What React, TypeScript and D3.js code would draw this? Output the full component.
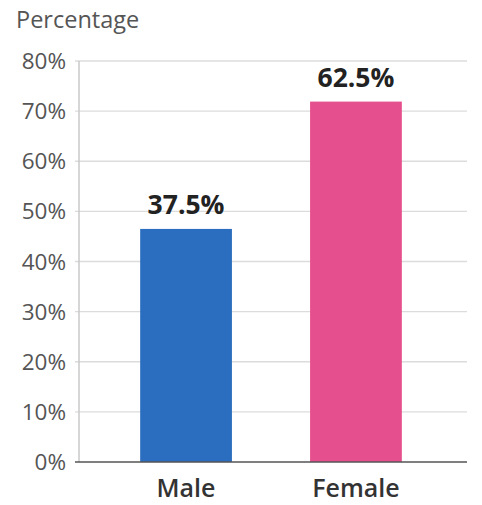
import React, { useEffect, useRef } from 'react';
import * as d3 from 'd3';

// bar heights as drawn in the picture, labels as printed above them
const categories = ['Male', 'Female'];
const barValues = [46.5, 71.9];
const barLabels = ['37.5%', '62.5%'];
const barColors = ['#2b6dbe', '#e64f8d'];
const yTicks = [0, 10, 20, 30, 40, 50, 60, 70, 80];

export default function App() {
  const svgRef = useRef<SVGSVGElement>(null);

  useEffect(() => {
    if (!svgRef.current) return;
    const svg = d3.select(svgRef.current);
    svg.selectAll('*').remove();

    const width = 482;
    const height = 505;
    const margin = { top: 61, right: 15, bottom: 43, left: 79 };
    const font = "'Open Sans', 'Noto Sans', sans-serif";

    const x = d3.scaleBand()
      .domain(categories)
      .range([margin.left, width - margin.right - 4])
      .paddingInner(0.46)
      .paddingOuter(0.36);

    const y = d3.scaleLinear()
      .domain([0, 80])
      .range([height - margin.bottom, margin.top]);

    // gridlines
    svg.append('g')
      .selectAll('line')
      .data(yTicks.filter(t => t > 0))
      .join('line')
      .attr('x1', margin.left - 4)
      .attr('x2', width - margin.right)
      .attr('y1', d => y(d))
      .attr('y2', d => y(d))
      .attr('stroke', '#dcdcdc')
      .attr('stroke-width', 1.3);

    // tick labels
    svg.append('g')
      .selectAll('text')
      .data(yTicks)
      .join('text')
      .attr('x', 66)
      .attr('y', d => y(d))
      .attr('dy', '0.36em')
      .attr('text-anchor', 'end')
      .attr('font-family', font)
      .attr('font-size', 22.5)
      .attr('fill', '#555')
      .text(d => `${d}%`);

    // left axis line
    svg.append('line')
      .attr('x1', margin.left)
      .attr('x2', margin.left)
      .attr('y1', y(80))
      .attr('y2', y(0))
      .attr('stroke', '#c8c8c8')
      .attr('stroke-width', 1.5);

    // bars
    svg.append('g')
      .selectAll('rect')
      .data(categories)
      .join('rect')
      .attr('x', d => x(d)!)
      .attr('width', x.bandwidth())
      .attr('y', (d, i) => y(barValues[i]))
      .attr('height', (d, i) => y(0) - y(barValues[i]))
      .attr('fill', (d, i) => barColors[i]);

    // value labels
    svg.append('g')
      .selectAll('text')
      .data(categories)
      .join('text')
      .attr('x', d => x(d)! + x.bandwidth() / 2)
      .attr('y', (d, i) => y(barValues[i]) - 15)
      .attr('text-anchor', 'middle')
      .attr('font-family', font)
      .attr('font-size', 26.5)
      .attr('font-weight', 700)
      .attr('fill', '#222')
      .text((d, i) => barLabels[i]);

    // baseline
    svg.append('line')
      .attr('x1', margin.left - 4)
      .attr('x2', width - margin.right)
      .attr('y1', y(0))
      .attr('y2', y(0))
      .attr('stroke', '#555')
      .attr('stroke-width', 1.5);

    // category labels
    svg.append('g')
      .selectAll('text')
      .data(categories)
      .join('text')
      .attr('x', d => x(d)! + x.bandwidth() / 2)
      .attr('y', 497)
      .attr('text-anchor', 'middle')
      .attr('font-family', font)
      .attr('font-size', 25)
      .attr('font-weight', 600)
      .attr('fill', '#333')
      .text(d => d);

    // axis title
    svg.append('text')
      .attr('x', 16)
      .attr('y', 28)
      .attr('font-family', font)
      .attr('font-size', 23.5)
      .attr('fill', '#555')
      .text('Percentage');
  }, []);

  return (
    <svg
      ref={svgRef}
      width={482}
      height={505}
      style={{ position: 'absolute', left: 0, top: 0, background: '#fff' }}
    />
  );
}
